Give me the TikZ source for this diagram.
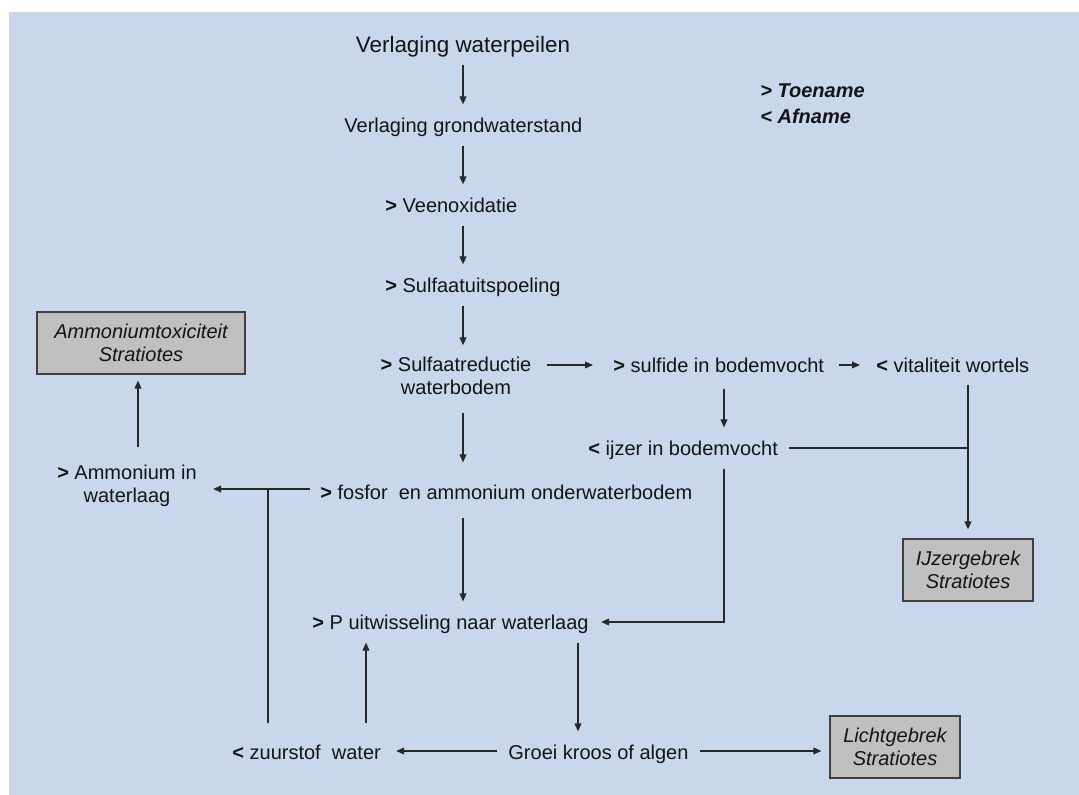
\documentclass[tikz,border=0pt]{standalone}
\usepackage{fontspec}
\setmainfont{Liberation Sans}
\usetikzlibrary{arrows.meta}
\newcommand\mystr{\rule[-1pt]{0pt}{8.2pt}}
\definecolor{bgblue}{RGB}{200,215,236}
\definecolor{boxfill}{RGB}{192,192,192}
\definecolor{boxline}{RGB}{64,64,64}
\definecolor{linec}{RGB}{40,40,40}
\definecolor{txtc}{RGB}{20,20,20}
\begin{document}
\begin{tikzpicture}[x=0.5pt,y=-0.5pt,
  txt/.style={inner sep=0pt, text height=8.2pt, text depth=1pt, text=txtc,
    font=\fontsize{10}{11.5}\selectfont, anchor=west},
  mtxt/.style={inner sep=0pt, align=center, text=txtc,
    font=\fontsize{10}{11.5}\selectfont, execute at begin node=\mystr},
  bx/.style={draw=boxline, fill=boxfill, line width=0.6pt, inner sep=0pt,
    minimum width=65pt, minimum height=31pt, align=center, text=txtc,
    font=\fontsize{10}{11.5}\selectfont\itshape},
  arr/.style={draw=linec, line width=0.6pt, -{Triangle[length=4pt,width=3.4pt]}},
  ln/.style={draw=linec, line width=0.6pt}
]
\useasboundingbox (0,0) rectangle (1079,795);
\fill[bgblue] (9,12) rectangle (1079,795);

% coordinates for vertical connector lines
\coordinate (ax) at (463,0);
\coordinate (bx) at (724,0);
\coordinate (cx) at (968,0);
\coordinate (dx) at (138,0);
\coordinate (ex) at (578,0);
\coordinate (fx) at (366,0);
\coordinate (gx) at (268,0);

% text nodes
\node[txt, anchor=center, text height=9pt, font=\fontsize{11.2}{13}\selectfont] (t1) at (463,45) {Verlaging waterpeilen};
\node[txt] (t2) at (344,125) {Verlaging grondwaterstand};
\node[txt] (t3) at (385,205) {{\bfseries >} Veenoxidatie};
\node[txt] (t4) at (385,285) {{\bfseries >} Sulfaatuitspoeling};
\node[mtxt] (t5) at (456,376.5) {{\bfseries >} Sulfaatreductie\\\mystr waterbodem};
\node[txt] (t6) at (613,365) {{\bfseries >} sulfide in bodemvocht};
\node[txt] (t7) at (876,365) {{\bfseries <} vitaliteit wortels};
\node[txt] (t8) at (588,448) {{\bfseries <} ijzer in bodemvocht};
\node[txt] (t9) at (320,492) {{\bfseries >} fosfor\ \ en ammonium onderwaterbodem};
\node[mtxt] (t10) at (127,485.5) {{\bfseries >} Ammonium in\\\mystr waterlaag};
\node[txt] (t11) at (312,622) {{\bfseries >} P uitwisseling naar waterlaag};
\node[txt] (t12) at (508,752) {Groei kroos of algen};
\node[txt] (t13) at (232,752) {{\bfseries <} zuurstof\ \ water};

% boxes
\node[bx, minimum width=104pt] (b1) at (141,343) {Ammoniumtoxiciteit\\Stratiotes};
\node[bx] (b2) at (968,570) {IJzergebrek\\Stratiotes};
\node[bx] (b3) at (895,747) {Lichtgebrek\\Stratiotes};

% legend
\node[inner sep=0pt, align=left, anchor=west, text=txtc,
  font=\fontsize{10}{13}\selectfont\bfseries\itshape,
  execute at begin node=\mystr] (lg) at (760,105) {> Toename\\\mystr < Afname};

% connectors
\draw[arr, shorten <=5pt, shorten >=5.5pt] (t1.south -| ax) -- (t2.north -| ax);
\draw[arr, shorten <=5.5pt, shorten >=5.5pt] (t2.south -| ax) -- (t3.north -| ax);
\draw[arr, shorten <=5.5pt, shorten >=5.5pt] (t3.south -| ax) -- (t4.north -| ax);
\draw[arr, shorten <=5.5pt, shorten >=5.5pt] (t4.south -| ax) -- (t5.north -| ax);
\draw[arr, shorten <=8pt, shorten >=10pt] (t5.south -| ax) -- (t9.north -| ax);
\draw[arr, shorten <=7.5pt, shorten >=10pt] (t5.east |- t6.west) -- (t6.west);
\draw[arr, shorten <=7pt, shorten >=8pt] (t6.east) -- (t7.west);
\draw[arr, shorten <=7pt, shorten >=5.5pt] (t6.south -| bx) -- (t8.north -| bx);
\draw[arr, shorten <=5pt, shorten >=4.5pt] (t7.south -| cx) -- (b2.north);
\draw[ln, shorten <=5.5pt] (t8.east) -- (t8.east -| cx);

\coordinate (j1) at ([yshift=1.5pt]t9.west);
\draw[arr, shorten <=5pt, shorten >=8pt] (j1) -- (j1 -| t10.east);
\draw[arr, shorten <=8.5pt, shorten >=3pt] (t10.north -| dx) -- (b1.south -| dx);
\draw[arr, shorten <=8pt, shorten >=5.5pt] (t9.south -| ax) -- (t11.north -| ax);
\draw[arr, shorten <=5.5pt, shorten >=6pt] (t8.south -| bx) |- (t11.east);
\draw[arr, shorten <=5.5pt, shorten >=5.5pt] (t11.south -| ex) -- (t12.north -| ex);
\draw[arr, shorten <=5.5pt, shorten >=7.5pt] ([yshift=0.5pt]t12.west) -- ([yshift=0.5pt]t13.east);
\draw[arr, shorten <=5.5pt, shorten >=4pt] ([yshift=0.5pt]t12.east) -- ([yshift=0.5pt]t12.east -| b3.west);
\draw[arr, shorten <=9.5pt, shorten >=5.5pt] (t13.north -| fx) -- (t11.south -| fx);
\draw[ln, shorten <=9.5pt] (t13.north -| gx) -- (gx |- j1);
\end{tikzpicture}
\end{document}
